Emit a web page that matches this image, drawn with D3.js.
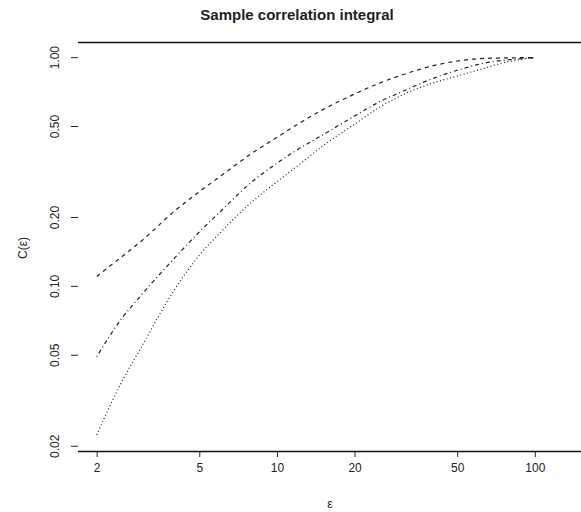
<!DOCTYPE html>
<html>
<head>
<meta charset="utf-8">
<script src="https://cdn.jsdelivr.net/npm/d3@7"></script>
<style>
  body { margin: 0; background: #fff; }
  text { font-family: "Liberation Sans", Arial, sans-serif; fill: #222; }
</style>
</head>
<body>
<div id="chart"></div>
<script>
// values
const eps = [2, 2.5, 3, 4, 5, 6, 8, 10, 12, 15, 20, 25, 30, 40, 50, 60, 80, 100]
const corrA = [0.110, 0.134, 0.158, 0.212, 0.258, 0.300, 0.380, 0.446, 0.508, 0.588, 0.690, 0.770, 0.830, 0.915, 0.962, 0.984, 0.993, 0.997]
const corrB = [0.049, 0.072, 0.092, 0.132, 0.172, 0.210, 0.285, 0.344, 0.394, 0.456, 0.553, 0.638, 0.700, 0.805, 0.876, 0.928, 0.975, 0.993]
const corrC = [0.0223, 0.038, 0.0547, 0.096, 0.136, 0.170, 0.233, 0.285, 0.334, 0.408, 0.509, 0.604, 0.675, 0.769, 0.826, 0.877, 0.959, 0.995]
const xTicks = [2, 5, 10, 20, 50, 100]
const yTicks = [0.02, 0.05, 0.10, 0.20, 0.50, 1.00]
const xRange = [2, 129]      // data extent, R pads 4% on log scale
const yRange = [0.0221, 1.0]

const width = 581, height = 512
const plot = {left: 78, right: 582, top: 42, bottom: 451}

// R style 4% padding in log space
function padLog(r) {
  const a = Math.log10(r[0]), b = Math.log10(r[1])
  const p = (b - a) * 0.04
  return [Math.pow(10, a - p), Math.pow(10, b + p)]
}

const x = d3.scaleLog().domain(padLog(xRange)).range([plot.left, plot.right])
const y = d3.scaleLog().domain(padLog(yRange)).range([plot.bottom, plot.top])

const svg = d3.select("#chart").append("svg")
  .attr("width", width)
  .attr("height", height)

svg.append("text")
  .attr("x", 297)
  .attr("y", 20)
  .attr("text-anchor", "middle")
  .style("font-size", "15px")
  .style("font-weight", "bold")
  .text("Sample correlation integral")

// box: only top and bottom show in the picture
svg.append("line")
  .attr("x1", plot.left).attr("x2", plot.right)
  .attr("y1", plot.top + 0.5).attr("y2", plot.top + 0.5)
  .attr("stroke", "#111").attr("stroke-width", 1.5)

const xAxis = svg.append("g")
  .attr("transform", `translate(0,${plot.bottom})`)
  .call(d3.axisBottom(x).tickValues(xTicks).tickFormat(d3.format("d")).tickSize(6).tickPadding(6))
xAxis.select(".domain").remove()
xAxis.selectAll("line").attr("stroke", "#222")
xAxis.selectAll("text").style("font-size", "12px").style("font-family", null)

svg.append("line")
  .attr("x1", plot.left).attr("x2", plot.right)
  .attr("y1", plot.bottom + 0.5).attr("y2", plot.bottom + 0.5)
  .attr("stroke", "#111").attr("stroke-width", 1.5)

const yAxis = svg.append("g")
  .attr("transform", `translate(${plot.left},0)`)
  .call(d3.axisLeft(y).tickValues(yTicks).tickFormat(d3.format(".2f")).tickSize(7))
yAxis.select(".domain").remove()
yAxis.selectAll("line").attr("stroke", "#222")
yAxis.selectAll("text")
  .style("font-size", "12px")
  .style("font-family", null)
  .attr("text-anchor", "middle")
  .attr("x", 0).attr("dy", 0)
  .attr("transform", "translate(-19,0) rotate(-90)")

svg.append("text")
  .attr("transform", "translate(27,248) rotate(-90)")
  .attr("text-anchor", "middle")
  .style("font-size", "12px")
  .text("C(ε)")

svg.append("text")
  .attr("x", 330)
  .attr("y", 508)
  .attr("text-anchor", "middle")
  .style("font-size", "12px")
  .text("ε")

const line = d3.line()
  .x(d => x(d[0]))
  .y(d => y(d[1]))
  .curve(d3.curveMonotoneX)

const series = [
  {vals: corrA, dash: "4,4"},
  {vals: corrB, dash: "1,3,4,3"},
  {vals: corrC, dash: "1,2.5"}
]

svg.append("g").selectAll("path")
  .data(series)
  .join("path")
    .attr("d", s => line(eps.map((e, i) => [e, s.vals[i]])))
    .attr("fill", "none")
    .attr("stroke", "#222")
    .attr("stroke-width", 1.2)
    .attr("stroke-dasharray", s => s.dash)
</script>
</body>
</html>
